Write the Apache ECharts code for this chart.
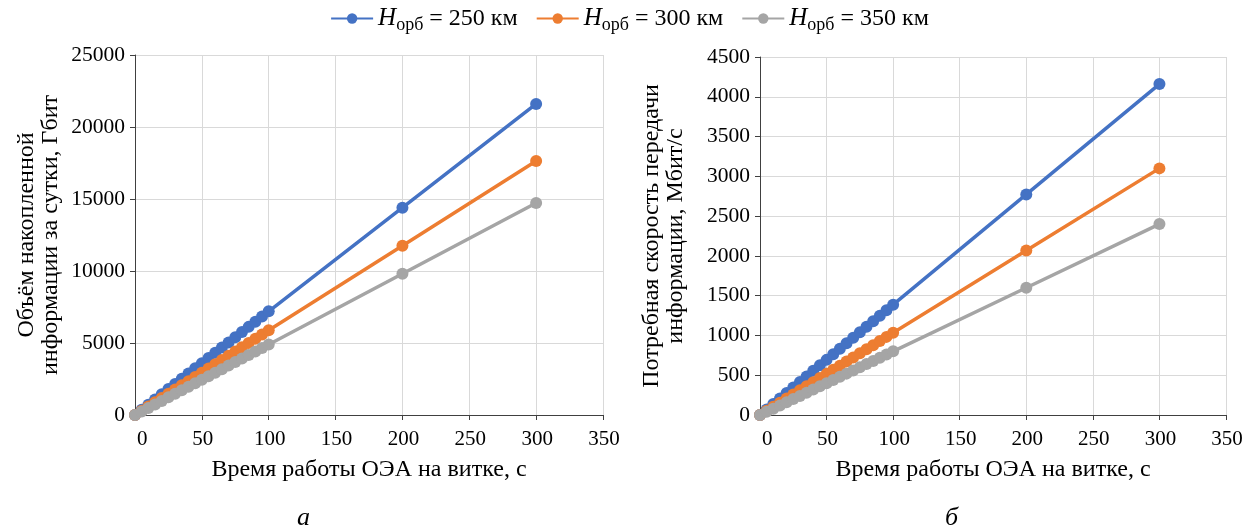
<!DOCTYPE html>
<html><head><meta charset="utf-8">
<script src="https://cdn.jsdelivr.net/npm/echarts@6/dist/echarts.min.js"></script>
<style>html,body{margin:0;padding:0;background:#fff}#c{width:1259px;height:530px}</style>
</head><body><div id="c"></div>
<script>
const xValues = [0,5,10,15,20,25,30,35,40,45,50,55,60,65,70,75,80,85,90,95,100,200,300];
const seriesNames = ['250 км','300 км','350 км'];
const volume250 = [0,360,720,1080,1440,1800,2160,2520,2880,3240,3600,3960,4320,4680,5040,5400,5760,6120,6480,6840,7200,14400,21600];
const volume300 = [0,294,588,882,1176,1470,1764,2058,2352,2646,2940,3234,3528,3822,4116,4410,4704,4998,5292,5586,5880,11760,17640];
const volume350 = [0,245,490,735,980,1225,1470,1715,1960,2205,2450,2695,2940,3185,3430,3675,3920,4165,4410,4655,4900,9810,14720];
const rate250 = [0,69,139,208,277,347,416,485,555,624,693,763,832,901,971,1040,1109,1179,1248,1317,1387,2773,4160];
const rate300 = [0,52,103,155,207,258,310,362,413,465,517,568,620,672,723,775,827,878,930,982,1033,2067,3100];
const rate350 = [0,40,80,120,160,200,240,280,320,360,400,440,480,520,560,600,640,680,720,760,800,1600,2400];

const colors = ['#4472C4','#ED7D31','#A5A5A5'];
const FONT = '"Liberation Serif", "DejaVu Serif", serif';
const pair = arr => xValues.map((x,i)=>[x,arr[i]]);

function xAxis(gi){
  return {type:'value', gridIndex:gi, min:0, max:350, interval:50,
    name:'Время работы ОЭА на витке, с', nameLocation:'middle', nameGap:43,
    nameTextStyle:{fontFamily:FONT,fontSize:24,color:'#000'},
    axisLine:{show:true,lineStyle:{color:'#404040',width:1}},
    axisTick:{show:true,inside:false,length:5,lineStyle:{color:'#404040'}},
    axisLabel:{fontFamily:FONT,fontSize:21,color:'#000',margin:14,alignMinLabel:'left',padding:[0,0,0,2]},
    splitLine:{show:true,lineStyle:{color:'#d9d9d9',width:1}}};
}
function yAxis(gi,max,interval,name){
  return {type:'value', gridIndex:gi, min:0, max:max, interval:interval,
    name:name, nameLocation:'middle', nameGap:72, nameRotate:90,
    nameTextStyle:{fontFamily:FONT,fontSize:24,color:'#000',lineHeight:24},
    axisLine:{show:true,lineStyle:{color:'#404040',width:1}},
    axisTick:{show:true,inside:false,length:5,lineStyle:{color:'#404040'}},
    axisLabel:{fontFamily:FONT,fontSize:21.5,color:'#000',margin:10,formatter:v=>String(v)},
    splitLine:{show:true,lineStyle:{color:'#d9d9d9',width:1}}};
}
function ser(name,idx,gi,data){
  return {name:name,type:'line',xAxisIndex:gi,yAxisIndex:gi,data:pair(data),
    symbol:'circle',symbolSize:12,showSymbol:true,
    lineStyle:{color:colors[idx],width:3.5},itemStyle:{color:colors[idx]},
    animation:false,z:2+idx};
}
const chart = echarts.init(document.getElementById('c'),null,{renderer:'canvas'});
chart.setOption({
  animation:false,
  backgroundColor:'#fff',
  legend:{top:1,left:'center',itemWidth:42,itemHeight:13,itemGap:18,
    data:seriesNames,
    formatter: n => '{i|H}{s|орб}{n| = '+n.replace(' км','')+' км}',
    textStyle:{fontFamily:FONT,fontSize:24,color:'#000',
      rich:{i:{fontFamily:FONT,fontSize:25,fontStyle:'italic',color:'#000'},
            s:{fontFamily:FONT,fontSize:18,color:'#000',verticalAlign:'bottom',padding:[13,0,0,0]},
            n:{fontFamily:FONT,fontSize:24,color:'#000'}}}},
  title:[
    {text:'а',left:292,top:500,textStyle:{fontFamily:FONT,fontSize:26,fontStyle:'italic',fontWeight:'normal',color:'#000'}},
    {text:'б',left:940,top:500,textStyle:{fontFamily:FONT,fontSize:26,fontStyle:'italic',fontWeight:'normal',color:'#000'}}
  ],
  grid:[
    {left:135,right:656,top:55,bottom:115},
    {left:760,right:33,top:57,bottom:115}
  ],
  xAxis:[xAxis(0),xAxis(1)],
  yAxis:[
    yAxis(0,25000,5000,'Объём накопленной\nинформации за сутки, Гбит'),
    yAxis(1,4500,500,'Потребная скорость передачи\nинформации, Мбит/с')
  ],
  series:[
    ser(seriesNames[0],0,0,volume250),
    ser(seriesNames[1],1,0,volume300),
    ser(seriesNames[2],2,0,volume350),
    ser(seriesNames[0],0,1,rate250),
    ser(seriesNames[1],1,1,rate300),
    ser(seriesNames[2],2,1,rate350)
  ]
});
</script></body></html>
